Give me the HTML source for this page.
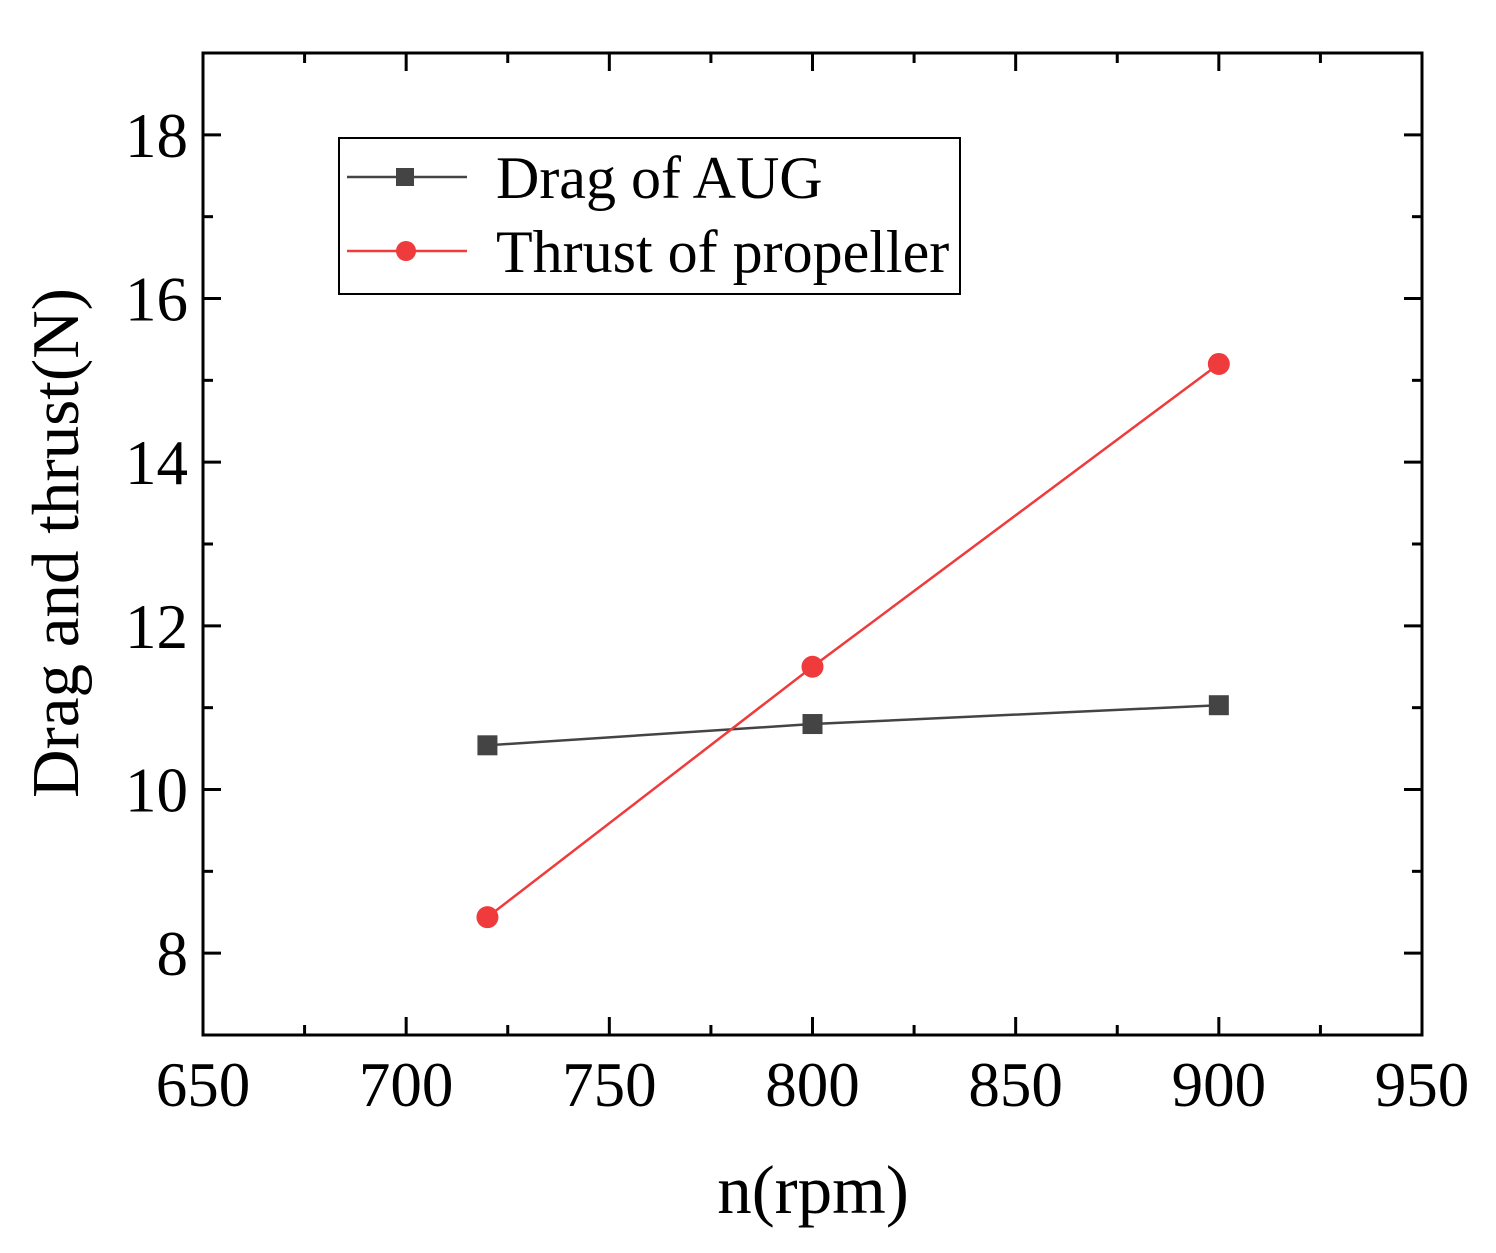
<!DOCTYPE html>
<html><head><meta charset="utf-8"><style>
html,body{margin:0;padding:0;background:#fff;}
svg{display:block;font-family:"Liberation Serif",serif;}
</style></head><body>
<svg id="chart" width="1496" height="1253" viewBox="0 0 1496 1253">
<g id="grid"></g>
<g id="marks"></g>
<text x="813" y="1213" font-size="69" text-anchor="middle">n(rpm)</text>
<text transform="translate(78,543) rotate(-90)" font-size="67" text-anchor="middle">Drag and thrust(N)</text>
<g>
<rect x="339" y="138" width="621" height="156" fill="#fff" stroke="#000" stroke-width="2"/>
<g>
<line x1="347" y1="177" x2="467" y2="177" stroke="#444" stroke-width="2.5"/>
<rect x="396" y="168" width="18" height="18" fill="#444"/>
<text x="496" y="198" font-size="60">Drag of AUG</text></g>
<g>
<line x1="347" y1="251" x2="467" y2="251" stroke="#ef3b3b" stroke-width="2.5"/>
<circle cx="406" cy="251" r="10" fill="#ef3b3b"/>
<text x="496" y="272" font-size="60">Thrust of propeller</text></g>
</g>
</svg>
<script>
const xTicks=[650,700,750,800,850,900,950];
const yTicks=[8,10,12,14,16,18];
const rpm=[720,800,900];
const drag=[10.54,10.8,11.03];
const thrust=[8.44,11.5,15.2];
const L=203,R=1422,T=53,B=1035,xmin=650,xmax=950,ymin=7,ymax=19;
const X=v=>L+(v-xmin)/(xmax-xmin)*(R-L);
const Y=v=>B-(v-ymin)/(ymax-ymin)*(B-T);
const NS="http://www.w3.org/2000/svg";
const g=document.getElementById('grid'),m=document.getElementById('marks');
function el(t,a,p){const e=document.createElementNS(NS,t);for(const k in a)e.setAttribute(k,a[k]);p.appendChild(e);return e;}
const frame=el('rect',{x:L,y:T,width:R-L,height:B-T,fill:'none',stroke:'#000','stroke-width':3},g);


for(let v=xmin;v<=xmax;v+=25){const maj=(v%50===0),len=maj?18:10,x=X(v);
 const t1=el('line',{x1:x,y1:B,x2:x,y2:B-len,stroke:'#000','stroke-width':3},g);
 
 
 el('line',{x1:x,y1:T,x2:x,y2:T+len,stroke:'#000','stroke-width':3},g);}
for(let v=ymin;v<=ymax;v+=1){const maj=(v%2===0),len=maj?18:10,y=Y(v);
 const t2=el('line',{x1:L,y1:y,x2:L+len,y2:y,stroke:'#000','stroke-width':3},g);
 
 
 el('line',{x1:R,y1:y,x2:R-len,y2:y,stroke:'#000','stroke-width':3},g);}
xTicks.forEach(v=>{const t=el('text',{x:X(v),y:1106,'font-size':63,'text-anchor':'middle'},g);t.textContent=v;
 
 });
yTicks.forEach(v=>{const t=el('text',{x:188,y:Y(v)+22,'font-size':63,'text-anchor':'end'},g);t.textContent=v;
 
 });
const dl=el('polyline',{points:rpm.map((r,i)=>X(r)+','+Y(drag[i])).join(' '),fill:'none',stroke:'#444','stroke-width':2.5},m);


const tl=el('polyline',{points:rpm.map((r,i)=>X(r)+','+Y(thrust[i])).join(' '),fill:'none',stroke:'#ef3b3b','stroke-width':2.5},m);


rpm.forEach((r,i)=>{
 const s=el('rect',{x:X(r)-10,y:Y(drag[i])-10,width:20,height:20,fill:'#444'},m);
 
 
 const c=el('circle',{cx:X(r),cy:Y(thrust[i]),r:11,fill:'#ef3b3b'},m);
 
 
});
</script>
</body></html>
